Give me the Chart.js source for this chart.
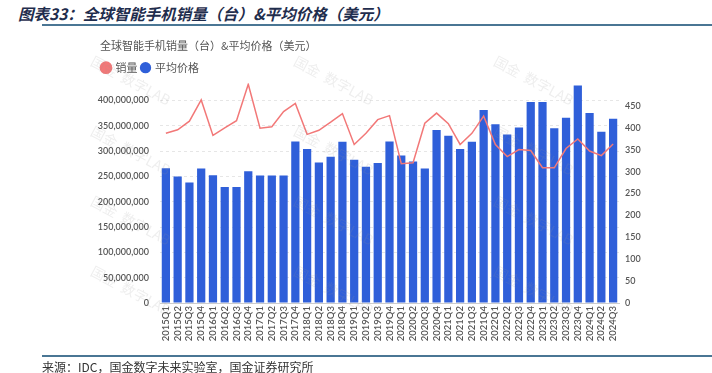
<!DOCTYPE html>
<html>
<head>
<meta charset="utf-8">
<script src="https://cdn.jsdelivr.net/npm/chart.js@4.4.1/dist/chart.umd.min.js"></script>
<style>
  html, body { margin: 0; padding: 0; background: #fff; }
  body { width: 712px; height: 373px; position: relative; overflow: hidden; }
  #title {
    position: absolute; left: 18px; top: 2px;
    font: italic bold 15.5px "Noto Sans CJK SC", sans-serif;
    color: #1f2d4d; white-space: nowrap;
  }
  #topLine { position: absolute; left: 42px; right: 0; top: 24px; height: 2px; background: #4a7694; }
  #bottomLine { position: absolute; left: 42px; right: 0; top: 355px; height: 2px; background: #4a7694; }
  #source {
    position: absolute; left: 42px; top: 358px;
    font: 12px "Noto Sans CJK SC", sans-serif; color: #333; white-space: nowrap;
  }
  #chart { position: absolute; left: 0; top: 0; }
</style>
</head>
<body>
<div id="title">图表33：全球智能手机销量（台）&amp;平均价格（美元）</div>
<div id="topLine"></div>
<canvas id="chart" width="712" height="373"></canvas>
<div id="bottomLine"></div>
<div id="source">来源：IDC，国金数字未来实验室，国金证券研究所</div>

<script>
// quarters 2015Q1 .. 2024Q3
const quarters = [
  "2015Q1","2015Q2","2015Q3","2015Q4",
  "2016Q1","2016Q2","2016Q3","2016Q4",
  "2017Q1","2017Q2","2017Q3","2017Q4",
  "2018Q1","2018Q2","2018Q3","2018Q4",
  "2019Q1","2019Q2","2019Q3","2019Q4",
  "2020Q1","2020Q2","2020Q3","2020Q4",
  "2021Q1","2021Q2","2021Q3","2021Q4",
  "2022Q1","2022Q2","2022Q3","2022Q4",
  "2023Q1","2023Q2","2023Q3","2023Q4",
  "2024Q1","2024Q2","2024Q3"
];

// shipments (units), left axis
const shipments = [
  335e6, 342e6, 359e6, 401e6,
  331e6, 346e6, 360e6, 432e6,
  345e6, 348e6, 378e6, 394e6,
  333e6, 341e6, 357e6, 374e6,
  313e6, 335e6, 362e6, 370e6,
  275e6, 277e6, 355e6, 375e6,
  354e6, 313e6, 335e6, 369e6,
  313e6, 289e6, 303e6, 301e6,
  267e6, 267e6, 305e6, 324e6,
  300e6, 291e6, 314e6
];

// average selling price (USD), right axis
const avgPrice = [
  308, 289, 275, 307,
  292, 265, 265, 301,
  291, 291, 291, 369,
  352, 321, 334, 368,
  327, 311, 320, 369,
  337, 323, 307, 395,
  382, 352, 368, 441,
  408, 385, 401, 459,
  459, 399, 423, 497,
  434, 391, 421
];

const leftTicks = [0, 50e6, 100e6, 150e6, 200e6, 250e6, 300e6, 350e6, 400e6];
const rightTicks = [0, 50, 100, 150, 200, 250, 300, 350, 400, 450];

const lineColor = "#f27878";
const barColor = "#2f5fd9";

// faint "国金 数字LAB" watermark tiles
const watermark = {
  id: "watermark",
  afterDraw(chart) {
    const ctx = chart.ctx;
    ctx.save();
    ctx.font = "14px 'Noto Sans CJK SC', sans-serif";
    ctx.fillStyle = "rgba(150,150,150,0.16)";
    [92, 295, 495].forEach(x => {
      [60, 130, 200, 270].forEach(y => {
        ctx.save();
        ctx.translate(x, y);
        ctx.rotate(28 * Math.PI / 180);
        ctx.fillText("国金  数字LAB", 0, 0);
        ctx.restore();
      });
    });
    ctx.restore();
  }
};

// nudge title and legend a few px right of the axis box
const shiftHeader = {
  id: "shiftHeader",
  afterLayout(chart) {
    chart.titleBlock.left += 4;
    chart.legend.left += 2;
  }
};

const tickFont = { family: "Lato, 'Noto Sans', sans-serif", size: 9, weight: "600" };

new Chart(document.getElementById("chart"), {
  data: {
    labels: quarters,
    datasets: [
      {
        type: "line",
        label: "销量",
        data: shipments,
        yAxisID: "yLeft",
        borderColor: lineColor,
        backgroundColor: lineColor,
        borderWidth: 1.5,
        pointRadius: 0,
        tension: 0,
        order: 0
      },
      {
        type: "bar",
        label: "平均价格",
        data: avgPrice,
        yAxisID: "yRight",
        backgroundColor: barColor,
        barPercentage: 0.7,
        categoryPercentage: 1,
        order: 1
      }
    ]
  },
  options: {
    responsive: false,
    animation: false,
    layout: { padding: { left: 96, right: 22, top: 36, bottom: 23 } },
    plugins: {
      title: {
        display: true,
        text: "全球智能手机销量（台）&平均价格（美元）",
        align: "start",
        color: "#555",
        font: { family: "'Noto Sans CJK SC', sans-serif", size: 11, weight: "normal" },
        padding: { top: 3, bottom: 6 }
      },
      legend: {
        align: "start",
        labels: {
          usePointStyle: true,
          pointStyle: "circle",
          boxWidth: 8,
          boxHeight: 8,
          padding: 4,
          color: "#555",
          font: { family: "'Noto Sans CJK SC', sans-serif", size: 11 }
        }
      },
      tooltip: { enabled: false }
    },
    scales: {
      x: {
        grid: { display: false, drawTicks: false },
        border: { display: true, color: "#ccc" },
        ticks: {
          autoSkip: false, minRotation: 90, maxRotation: 90,
          padding: 3, color: "#555", font: { family: "Lato, 'Noto Sans', sans-serif", size: 9.5, weight: "600" }
        },
        afterFit: s => { s.height = 47; }
      },
      yLeft: {
        position: "left",
        min: 0,
        max: 434e6,
        afterBuildTicks: s => { s.ticks = leftTicks.map(v => ({ value: v })); },
        grid: { color: "#e6e6e6", drawTicks: false },
        border: { display: false, dash: [3, 3] },
        ticks: {
          padding: 11, color: "#555", font: tickFont,
          callback: v => v.toLocaleString("en-US")
        },
        afterFit: s => { s.width = 64; }
      },
      yRight: {
        position: "right",
        min: 0,
        max: 502,
        afterBuildTicks: s => { s.ticks = rightTicks.map(v => ({ value: v })); },
        grid: { drawOnChartArea: false, drawTicks: false },
        border: { display: false },
        ticks: { padding: 6, color: "#555", font: tickFont },
        afterFit: s => { s.width = 71; }
      }
    }
  },
  plugins: [watermark, shiftHeader]
});
</script>
</body>
</html>
